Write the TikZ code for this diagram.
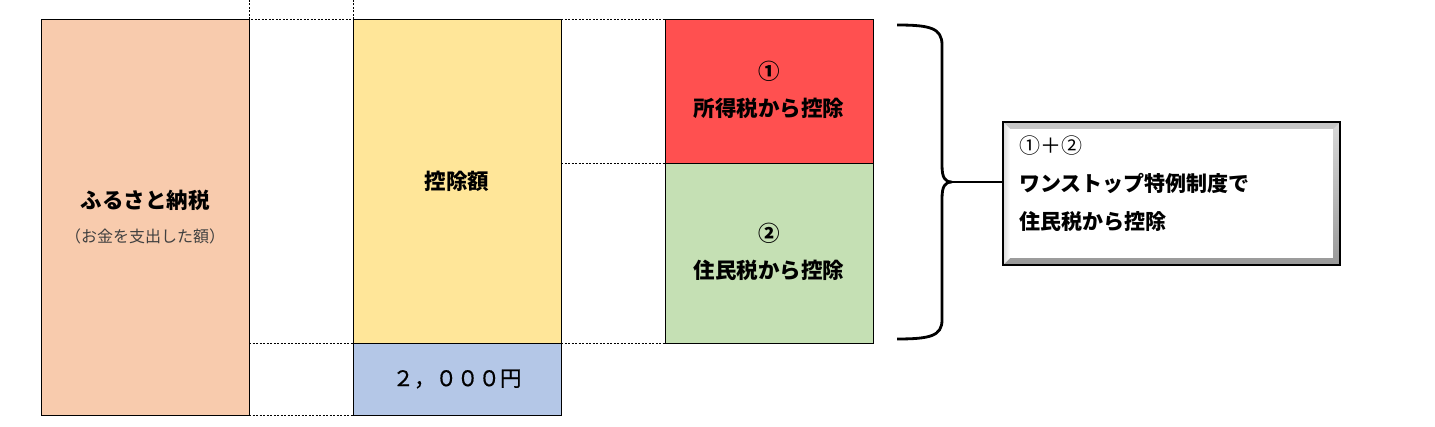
\documentclass[tikz,border=0pt]{standalone}
\usepackage{fontspec}
\setmainfont{Noto Sans CJK JP}
\begin{document}
\begin{tikzpicture}[x=1pt,y=-1pt,
  blk/.style={draw=black,line width=0.8pt},
  dl/.style={dashed,line width=0.6pt,dash pattern=on 2pt off 1.5pt},
  lab/.style={font=\fontsize{21.5}{26}\selectfont\bfseries,align=center}]
\useasboundingbox (0,0) rectangle (1435,427);
\fill[white] (0,0) rectangle (1435,427);
\definecolor{corange}{HTML}{F8CBAD}
\definecolor{cyellow}{HTML}{FFE699}
\definecolor{cblue}{HTML}{B4C7E7}
\definecolor{cred}{HTML}{FF5050}
\definecolor{cgreen}{HTML}{C5E0B4}
% dashed guides
\draw[dl] (249,0) -- (249,19) -- (353,19) -- (353,0);
\draw[dl] (561,19) -- (665,19);
\draw[dl] (561,163) -- (665,163);
\draw[dl] (249,343) -- (353,343);
\draw[dl] (561,343) -- (665,343);
\draw[dl] (249,415) -- (353,415);
% boxes
\draw[blk,fill=corange] (41,19) rectangle (249,415);
\node[lab] (furu) at (145,200) {ふるさと納税};
\node[font=\fontsize{16}{18}\selectfont,text=black!75] (okane) at (145,236) {（お金を支出した額）};
\draw[blk,fill=cyellow] (353,19) rectangle (561,343);
\node[lab] (kojo) at (457,181) {控除額};
\draw[blk,fill=cblue] (353,343) rectangle (561,415);
\node[font=\fontsize{21.5}{26}\selectfont\addfontfeature{FakeBold=0.6}] (yen) at (457,379) {２，０００円};
\draw[blk,fill=cred] (665,19) rectangle (873,163);
\node[lab,font=\fontsize{21.5}{37}\selectfont\bfseries] (one) at (769,90) {①\\所得税から控除};
\draw[blk,fill=cgreen] (665,163) rectangle (873,343);
\node[lab,font=\fontsize{21.5}{37}\selectfont\bfseries] (two) at (769,252) {②\\住民税から控除};
% brace
\draw[line width=2.8pt] (897,25) .. controls (930,25) and (942,28) .. (942,45)
  -- (942,165) .. controls (942,178) and (945,182) .. (952,182)
  .. controls (945,182) and (942,186) .. (942,199)
  -- (942,320) .. controls (942,336) and (930,339) .. (897,339);
\coordinate (tip) at (952,182);
% shadow box
\shade[top color=gray!30,bottom color=gray!80] (1003,122) rectangle (1340,265);
\fill[gray!45] (1003,122) -- (1340,122) -- (1333,129) -- (1010,129) -- cycle;
\shade[left color=gray!30,right color=white] (1003,122) -- (1010,129) -- (1010,258) -- (1003,265) -- cycle;
\fill[white] (1010,129) rectangle (1333,258);
\draw[line width=1.4pt] (1003,122) rectangle (1340,265);
\node[anchor=north west,align=left,font=\fontsize{21}{38}\selectfont,inner sep=0pt] (note) at (1019,136)
  {①＋②\\\textbf{ワンストップ特例制度で}\\\textbf{住民税から控除}};
\draw[line width=1.5pt] (tip) -- (1003,182);
\end{tikzpicture}
\end{document}
